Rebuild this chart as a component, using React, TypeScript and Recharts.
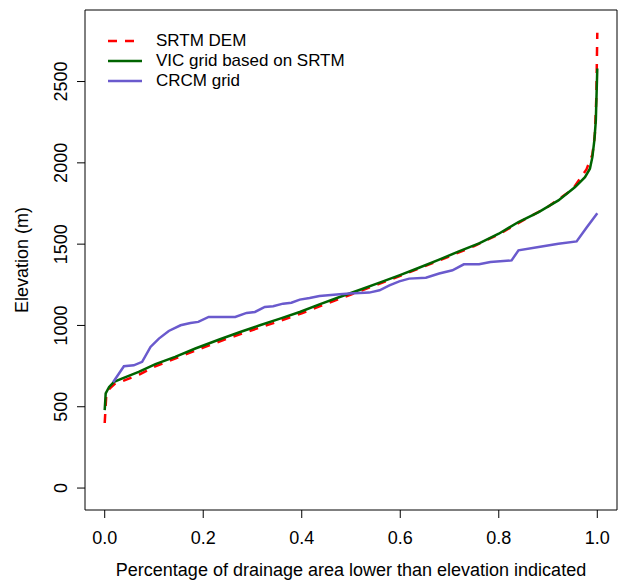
import { LineChart, Line, XAxis, YAxis, ReferenceArea } from "recharts";

const FONT = "'Liberation Sans', Arial, sans-serif";

const X_TICKS = [0, 0.2, 0.4, 0.6, 0.8, 1.0];
const Y_TICKS = [0, 500, 1000, 1500, 2000, 2500];

// SRTM DEM (red dashed)
const SRTM_X = [0, 0.003, 0.01, 0.02, 0.04, 0.07, 0.1, 0.15, 0.2, 0.25, 0.3, 0.35, 0.4, 0.45, 0.5, 0.55, 0.6, 0.65, 0.7, 0.75, 0.8, 0.85, 0.9, 0.95, 0.978, 0.99, 0.995, 0.998, 1.0];
const SRTM_Y = [400, 560, 612, 640, 662, 698, 745, 805, 864, 920, 972, 1022, 1075, 1133, 1190, 1248, 1305, 1365, 1425, 1488, 1560, 1648, 1730, 1838, 1960, 2050, 2170, 2400, 2800];

// VIC grid based on SRTM (dark green)
const VIC_X = [0, 0.002, 0.009, 0.019, 0.036, 0.069, 0.103, 0.143, 0.184, 0.234, 0.275, 0.315, 0.356, 0.396, 0.436, 0.477, 0.517, 0.558, 0.598, 0.638, 0.679, 0.719, 0.76, 0.8, 0.84, 0.881, 0.921, 0.955, 0.975, 0.985, 0.99, 0.994, 0.997, 1.0];
const VIC_Y = [479, 582, 622, 653, 674, 714, 762, 807, 858, 915, 960, 1001, 1042, 1083, 1130, 1175, 1218, 1263, 1308, 1355, 1405, 1455, 1505, 1564, 1636, 1697, 1769, 1851, 1912, 1964, 2035, 2138, 2260, 2580];

// CRCM grid (slate blue)
const CRCM_X = [0.017, 0.039, 0.059, 0.076, 0.093, 0.11, 0.13, 0.154, 0.174, 0.19, 0.211, 0.265, 0.288, 0.305, 0.325, 0.342, 0.362, 0.379, 0.396, 0.416, 0.436, 0.477, 0.497, 0.537, 0.558, 0.578, 0.598, 0.618, 0.652, 0.679, 0.706, 0.729, 0.76, 0.783, 0.826, 0.84, 0.881, 0.921, 0.958, 0.978, 1.0];
const CRCM_Y = [651, 749, 755, 776, 868, 919, 966, 1001, 1015, 1022, 1052, 1052, 1077, 1083, 1114, 1118, 1134, 1140, 1159, 1169, 1181, 1192, 1196, 1202, 1216, 1247, 1271, 1288, 1294, 1319, 1339, 1376, 1376, 1390, 1400, 1462, 1482, 1503, 1517, 1601, 1690];

const toPoints = (xs: number[], ys: number[]) => xs.map((x, i) => ({ x, y: ys[i] }));

const SERIES = [
  { name: "SRTM DEM", color: "#ff0000", dash: "9 8", data: toPoints(SRTM_X, SRTM_Y) },
  { name: "VIC grid based on SRTM", color: "#006400", dash: undefined, data: toPoints(VIC_X, VIC_Y) },
  { name: "CRCM grid", color: "#6a5acd", dash: undefined, data: toPoints(CRCM_X, CRCM_Y) },
];

const X_DOMAIN: [number, number] = [-0.04, 1.04];
const Y_DOMAIN: [number, number] = [-135, 2940];

function XTick(props: any) {
  const { x, y, payload } = props;
  return (
    <text x={x} y={y + 26} textAnchor="middle" fontSize={18} fontFamily={FONT} fill="#000">
      {Number(payload.value).toFixed(1)}
    </text>
  );
}

function YTick(props: any) {
  const { x, y, payload } = props;
  const bx = x - 10;
  return (
    <text
      x={bx}
      y={y}
      transform={`rotate(-90 ${bx} ${y})`}
      textAnchor="middle"
      fontSize={18}
      fontFamily={FONT}
      fill="#000"
    >
      {payload.value}
    </text>
  );
}

function LegendBox() {
  return (
    <div style={{ position: "absolute", left: 108, top: 31, fontFamily: FONT, fontSize: 17, color: "#000", lineHeight: "20px" }}>
      {SERIES.map((s) => (
        <div key={s.name} style={{ display: "flex", alignItems: "center", height: 20 }}>
          <svg width={48} height={20}>
            <line x1={0} x2={34} y1={10} y2={10} stroke={s.color} strokeWidth={2.5} strokeDasharray={s.dash} />
          </svg>
          <span>{s.name}</span>
        </div>
      ))}
    </div>
  );
}

export default function App() {
  return (
    <div style={{ position: "absolute", left: 0, top: 0, width: 621, height: 580, background: "#fff" }}>
      <LineChart width={621} height={580} margin={{ top: 10, right: 4, bottom: 0, left: 0 }}>
        <XAxis
          type="number"
          dataKey="x"
          domain={X_DOMAIN}
          ticks={X_TICKS}
          allowDataOverflow
          axisLine={false}
          tickLine={{ stroke: "#000" }}
          tickSize={8}
          tickMargin={0}
          height={70}
          tick={<XTick />}
          label={{
            content: (p: any) => {
              const vb = p.viewBox || {};
              return (
                <text x={vb.x + vb.width / 2} y={576} textAnchor="middle" fontSize={18} fontFamily={FONT} fill="#000">
                  Percentage of drainage area lower than elevation indicated
                </text>
              );
            },
          }}
        />
        <YAxis
          type="number"
          dataKey="y"
          domain={Y_DOMAIN}
          ticks={Y_TICKS}
          allowDataOverflow
          axisLine={false}
          tickLine={{ stroke: "#000" }}
          tickSize={8}
          tickMargin={0}
          width={85}
          tick={<YTick />}
          label={{
            content: (p: any) => {
              const vb = p.viewBox || {};
              const cy = vb.y + vb.height / 2;
              return (
                <text
                  x={28}
                  y={cy}
                  transform={`rotate(-90 28 ${cy})`}
                  textAnchor="middle"
                  fontSize={18}
                  fontFamily={FONT}
                  fill="#000"
                >
                  Elevation (m)
                </text>
              );
            },
          }}
        />
        <ReferenceArea
          x1={X_DOMAIN[0]}
          x2={X_DOMAIN[1]}
          y1={Y_DOMAIN[0]}
          y2={Y_DOMAIN[1]}
          fill="none"
          stroke="#000"
          strokeWidth={1}
          ifOverflow="visible"
        />
        {SERIES.map((s) => (
          <Line
            key={s.name}
            data={s.data}
            dataKey="y"
            name={s.name}
            type="linear"
            stroke={s.color}
            strokeWidth={2.5}
            strokeDasharray={s.dash}
            dot={false}
            isAnimationActive={false}
          />
        ))}
      </LineChart>
      <LegendBox />
    </div>
  );
}
